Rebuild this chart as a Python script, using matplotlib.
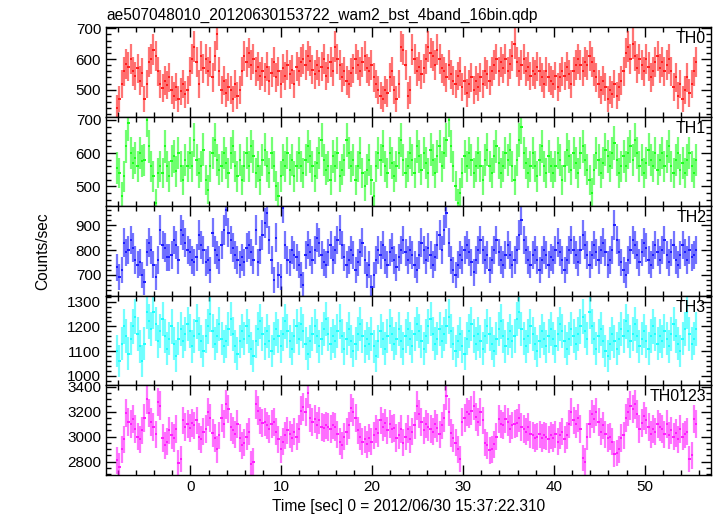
import numpy as np
import matplotlib
matplotlib.use("Agg")
import matplotlib.pyplot as plt
from matplotlib.ticker import MultipleLocator

plt.rcParams['font.family'] = ['Liberation Sans', 'DejaVu Sans']

title = "ae507048010_20120630153722_wam2_bst_4band_16bin.qdp"
xlabel = "Time [sec] 0 = 2012/06/30 15:37:22.310"
ylabel = "Counts/sec"
t_start = -8.2
bin_width = 0.25

panel_names = ["TH0", "TH1", "TH2", "TH3", "TH0123"]

th0 = [
    440, 470, 520, 560, 585, 575, 600, 560, 545, 570, 530, 555, 470, 520, 590, 600,
    630, 610, 560, 520, 505, 530, 515, 540, 500, 480, 510, 470, 495, 520, 485, 500,
    560, 600, 640, 590, 520, 610, 570, 600, 560, 590, 540, 610, 680, 560, 500, 530,
    490, 510, 500, 470, 520, 480, 500, 560, 610, 590, 620, 580, 600, 560, 575, 545,
    560, 540, 575, 530, 555, 590, 540, 560, 520, 570, 545, 580, 550, 565, 520, 575,
    560, 590, 600, 580, 610, 595, 565, 550, 580, 560, 575, 600, 545, 570, 590, 560,
    640, 600, 580, 540, 560, 530, 520, 555, 570, 600, 580, 560, 590, 610, 570, 560,
    580, 540, 520, 500, 480, 470, 500, 490, 540, 560, 500, 470, 520, 640, 630, 580,
    480, 500, 630, 600, 560, 575, 550, 570, 600, 640, 620, 610, 580, 630, 600, 570,
    560, 540, 580, 550, 530, 520, 545, 560, 510, 530, 490, 520, 540, 500, 530, 510,
    540, 520, 560, 550, 530, 560, 580, 600, 560, 590, 570, 600, 560, 585, 610, 650,
    590, 560, 580, 600, 560, 575, 545, 560, 550, 575, 560, 540, 520, 560, 540, 530,
    520, 545, 510, 540, 560, 545, 575, 550, 520, 560, 580, 600, 580, 560, 590, 580,
    610, 590, 560, 540, 520, 500, 530, 510, 470, 500, 485, 520, 480, 510, 530, 560,
    620, 640, 600, 650, 610, 570, 600, 580, 560, 600, 575, 540, 560, 590, 610, 570,
    590, 560, 580, 600, 560, 510, 540, 480, 520, 470, 500, 540, 490, 520, 560, 590,
]

th1 = [
    555, 540, 470, 530, 620, 690, 600, 570, 585, 560, 600, 575, 580, 700, 620, 560,
    530, 450, 540, 560, 540, 620, 560, 530, 575, 590, 545, 600, 560, 520, 580, 560,
    600, 560, 640, 580, 540, 560, 610, 520, 490, 560, 600, 640, 580, 550, 560, 600,
    570, 540, 600, 620, 560, 530, 580, 520, 560, 600, 560, 620, 590, 540, 560, 520,
    580, 610, 560, 540, 600, 560, 500, 470, 530, 580, 560, 600, 550, 580, 530, 560,
    600, 560, 540, 580, 620, 590, 560, 530, 570, 600, 640, 580, 550, 560, 520, 590,
    560, 600, 530, 550, 580, 640, 600, 560, 580, 520, 560, 600, 540, 500, 550, 580,
    520, 470, 560, 600, 580, 620, 560, 540, 600, 570, 530, 560, 600, 640, 580, 540,
    560, 600, 580, 540, 620, 590, 550, 600, 570, 540, 610, 580, 540, 590, 620, 560,
    600, 640, 700, 620, 560, 500, 450, 480, 540, 590, 560, 600, 580, 540, 560, 600,
    560, 520, 580, 610, 560, 540, 590, 620, 570, 540, 560, 600, 580, 610, 560, 520,
    580, 640, 680, 600, 570, 540, 560, 600, 560, 530, 580, 620, 560, 540, 590, 560,
    540, 560, 600, 580, 520, 560, 610, 590, 550, 600, 570, 540, 600, 620, 580, 550,
    520, 480, 550, 600, 580, 540, 570, 610, 590, 560, 600, 630, 580, 540, 560, 590,
    560, 600, 620, 580, 640, 600, 560, 580, 540, 570, 610, 580, 560, 600, 550, 580,
    600, 560, 590, 620, 560, 540, 580, 600, 550, 570, 540, 580, 600, 560, 540, 580,
]

th2 = [
    730, 690, 720, 830, 790, 800, 840, 810, 760, 740, 750, 700, 670, 790, 830, 800,
    740, 690, 760, 880, 820, 810, 770, 770, 780, 840, 820, 760, 880, 860, 830, 800,
    790, 760, 750, 770, 860, 820, 800, 750, 760, 720, 870, 800, 780, 760, 820, 880,
    960, 870, 840, 810, 780, 760, 740, 770, 750, 810, 820, 790, 760, 880, 750, 800,
    860, 910, 950, 840, 760, 680, 850, 700, 690, 970, 820, 760, 750, 800, 780, 770,
    740, 700, 660, 780, 820, 790, 760, 800, 850, 830, 780, 750, 740, 790, 820, 760,
    800, 840, 880, 820, 770, 740, 760, 800, 780, 720, 750, 790, 830, 760, 700, 740,
    650, 700, 760, 800, 780, 820, 760, 740, 790, 810, 760, 730, 770, 800, 840, 790,
    760, 800, 780, 740, 720, 780, 830, 800, 760, 810, 780, 740, 770, 820, 860, 800,
    880, 950, 830, 760, 720, 700, 740, 780, 760, 800, 820, 790, 750, 710, 760, 800,
    840, 800, 760, 780, 720, 760, 800, 840, 790, 760, 740, 780, 820, 780, 740, 760,
    800, 860, 920, 840, 800, 760, 740, 780, 800, 760, 720, 760, 800, 780, 740, 770,
    760, 800, 830, 790, 760, 720, 760, 800, 840, 800, 780, 750, 800, 860, 820, 780,
    740, 780, 820, 790, 760, 800, 830, 790, 740, 760, 800, 900, 840, 790, 750, 720,
    700, 760, 800, 840, 820, 780, 750, 790, 830, 810, 760, 740, 780, 820, 790, 760,
    800, 840, 780, 750, 790, 820, 760, 740, 780, 820, 790, 760, 800, 770, 780, 800,
]

th3 = [
    1100, 1060, 1130, 1200, 1160, 1090, 1150, 1200, 1240, 1170, 1120, 1060, 1130, 1260, 1220, 1190,
    1260, 1210, 1140, 1180, 1230, 1160, 1110, 1150, 1200, 1130, 1080, 1150, 1190, 1140, 1170, 1210,
    1180, 1120, 1160, 1220, 1170, 1140, 1100, 1160, 1200, 1250, 1180, 1130, 1160, 1210, 1150, 1120,
    1140, 1190, 1230, 1170, 1120, 1090, 1140, 1180, 1150, 1200, 1160, 1110, 1080, 1140, 1190, 1220,
    1170, 1130, 1180, 1140, 1100, 1150, 1190, 1160, 1120, 1170, 1220, 1180, 1140, 1110, 1160, 1200,
    1150, 1210, 1180, 1130, 1090, 1140, 1170, 1200, 1160, 1120, 1150, 1190, 1230, 1170, 1130, 1160,
    1140, 1180, 1220, 1160, 1110, 1150, 1190, 1140, 1100, 1130, 1170, 1210, 1160, 1120, 1150, 1130,
    1170, 1120, 1080, 1140, 1180, 1150, 1110, 1160, 1200, 1170, 1130, 1150, 1190, 1140, 1110, 1160,
    1190, 1150, 1120, 1170, 1210, 1180, 1140, 1110, 1160, 1200, 1230, 1170, 1130, 1150, 1190, 1140,
    1170, 1200, 1240, 1180, 1130, 1100, 1140, 1170, 1120, 1090, 1150, 1180, 1210, 1160, 1130, 1170,
    1140, 1110, 1160, 1200, 1170, 1130, 1100, 1150, 1190, 1220, 1160, 1120, 1150, 1180, 1140, 1160,
    1230, 1260, 1190, 1150, 1120, 1160, 1200, 1170, 1130, 1100, 1140, 1180, 1150, 1120, 1160, 1190,
    1150, 1120, 1170, 1210, 1180, 1140, 1110, 1150, 1190, 1160, 1130, 1170, 1200, 1240, 1180, 1150,
    1260, 1200, 1150, 1110, 1160, 1190, 1140, 1100, 1080, 1130, 1170, 1140, 1110, 1150, 1190, 1160,
    1220, 1180, 1140, 1170, 1210, 1160, 1120, 1150, 1180, 1140, 1110, 1160, 1200, 1170, 1130, 1160,
    1140, 1180, 1150, 1120, 1170, 1210, 1160, 1130, 1100, 1150, 1190, 1260, 1170, 1130, 1150, 1190,
]

th0123 = [
    2810, 2760, 2900, 2980, 3190, 3120, 3100, 3140, 3060, 3000, 2980, 3050, 3150, 3300, 3190, 3120,
    3080, 3020, 3280, 3250, 2990, 2930, 2960, 3050, 3010, 2990, 3060, 2790, 2820, 3130, 3080, 3100,
    3070, 3110, 3090, 3130, 3000, 2980, 3040, 3060, 3200, 3150, 3030, 2990, 2900, 3010, 3150, 3100,
    3260, 3220, 3080, 3050, 3020, 3100, 2990, 2930, 2950, 3000, 3040, 2780, 2800, 3260, 3210, 3130,
    3110, 3120, 3090, 3060, 3100, 3120, 3040, 2980, 2900, 2960, 3010, 3050, 3020, 2990, 3040, 3000,
    3060, 3210, 3240, 3200, 3350, 3150, 3120, 3140, 3090, 3130, 3080, 3070, 3090, 3080, 3060, 3090,
    3080, 3020, 2960, 2930, 3000, 3040, 3090, 3230, 3200, 3150, 3050, 3000, 2960, 2980, 2940, 2990,
    2960, 3010, 3060, 3030, 3130, 3080, 3110, 3050, 3100, 3060, 3070, 2990, 3010, 3060, 2950, 3000,
    3060, 2980, 3040, 3090, 3250, 3180, 3120, 3050, 3100, 3080, 3060, 3040, 3100, 3070, 3020, 3090,
    3150, 3330, 3200, 3030, 2990, 2950, 2900, 2820, 3120, 3150, 3200, 3180, 3210, 3250, 3160, 3120,
    3200, 3130, 2950, 2930, 2890, 2900, 2940, 3000, 3140, 3100, 3090, 3140, 3120, 3060, 3090, 3100,
    3110, 3150, 3080, 3060, 3040, 3080, 3020, 3010, 2990, 3000, 3020, 2990, 3010, 3000, 2980, 3010,
    2990, 3020, 2960, 3010, 3040, 2980, 3010, 3100, 3200, 3130, 3100, 3150, 3060, 2830, 2800, 3000,
    3100, 3180, 3140, 3200, 3120, 3040, 3090, 3020, 2990, 3000, 2960, 2860, 2870, 2900, 2990, 3010,
    3150, 3200, 3250, 3220, 3260, 3180, 3060, 3110, 3170, 3130, 3080, 3020, 3060, 3040, 3100, 3080,
    3060, 3020, 3100, 3010, 3050, 3000, 3030, 2980, 3060, 3000, 3020, 3040, 2820, 2850, 3140, 3100,
]

series = [th0, th1, th2, th3, th0123]
colors = ["#ff1a1a", "#1aff1a", "#1a1aff", "#1affff", "#ff1aff"]
ylims = [(413, 704), (440, 710), (616, 976), (961, 1324), (2692, 3412)]
major = [100, 100, 100, 100, 200]
minor = [20, 20, 20, 20, 50]

fig = plt.figure(figsize=(7.17, 5.16), dpi=100)
left, right = 106 / 717, 711 / 717
top, bottom = 1 - 27 / 516, 1 - 475 / 516
h = (top - bottom) / 5
axes = []
for i in range(5):
    ax = fig.add_axes([left, top - (i + 1) * h, right - left, h])
    axes.append(ax)

for i, ax in enumerate(axes):
    y = np.array(series[i], dtype=float)
    n = len(y)
    t = t_start + bin_width * (np.arange(n) + 0.5)
    yerr = np.sqrt(y * bin_width) / bin_width
    ax.errorbar(t, y, yerr=yerr, fmt='none', ecolor=colors[i], elinewidth=1.6,
                alpha=0.6, capsize=0)
    ax.errorbar(t, y, xerr=bin_width / 2, fmt='none', ecolor=colors[i],
                elinewidth=1.4, capsize=0)
    ax.set_xlim(-9.3, 57.3)
    ax.set_ylim(*ylims[i])
    ax.xaxis.set_major_locator(MultipleLocator(10))
    ax.xaxis.set_minor_locator(MultipleLocator(2))
    ax.yaxis.set_major_locator(MultipleLocator(major[i]))
    ax.yaxis.set_minor_locator(MultipleLocator(minor[i]))
    ax.tick_params(which='both', direction='in', top=True, right=True,
                   labelsize=11, width=1)
    ax.tick_params(which='major', length=7)
    ax.tick_params(which='minor', length=3.5)
    for s in ax.spines.values():
        s.set_linewidth(1.0)
    if i < 4:
        ax.tick_params(labelbottom=False)
    ax.text(0.992, 0.955, panel_names[i], transform=ax.transAxes, ha='right',
            va='top', fontsize=11.5)

axes[0].set_title(title, loc='left', fontsize=11.2, pad=5)
axes[-1].set_xlabel(xlabel, fontsize=11.2, labelpad=4)
fig.text(0.06, (top + bottom) / 2, ylabel, rotation=90, ha='center',
         va='center', fontsize=11.2)

fig.savefig("out.png", dpi=100)
